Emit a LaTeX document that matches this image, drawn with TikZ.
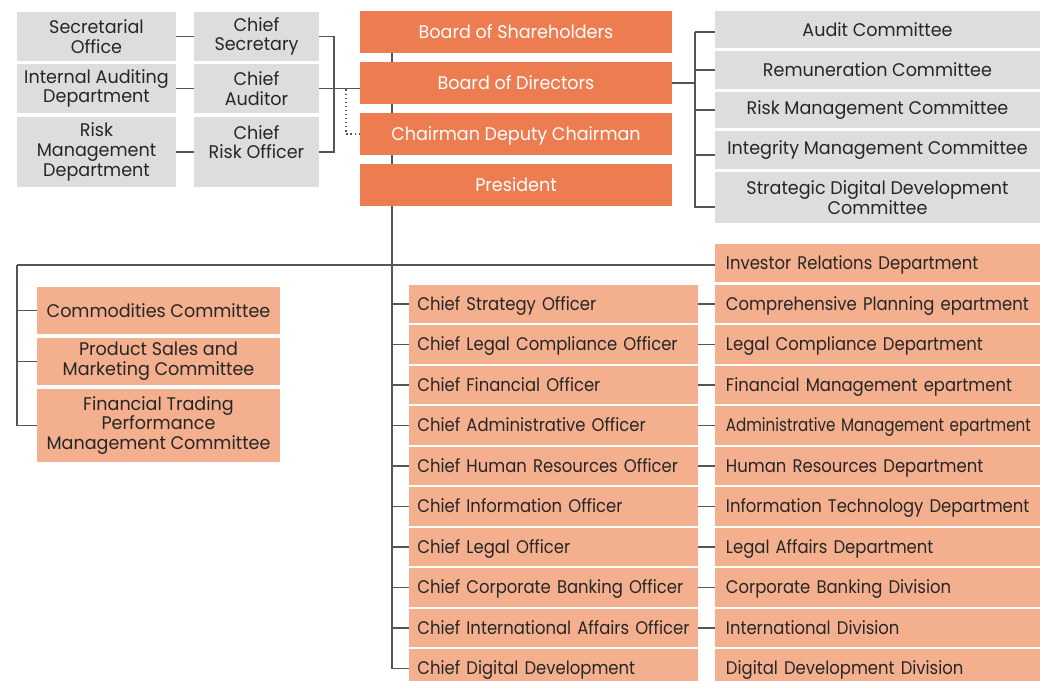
\documentclass[tikz,border=0pt]{standalone}
\usepackage{fontspec}
\setmainfont{Poppins}
\newfontfamily\boxfont{Poppins}[FakeStretch=0.96]
\newfontfamily\narrowfont{Poppins}[FakeStretch=0.9]
\usetikzlibrary{calc}

\definecolor{boardorange}{RGB}{237,125,81}
\definecolor{deptorange}{RGB}{244,176,142}
\definecolor{unitgrey}{RGB}{220,221,220}
\definecolor{linkgrey}{RGB}{85,85,85}

\tikzset{
    link/.style={draw=linkgrey, line width=0.9pt},
    unitbox/.style={fill=unitgrey, text=black!85, align=center, inner sep=0pt,
        font=\fontsize{13}{14}\boxfont},
    boardbox/.style={fill=boardorange, text=white, minimum width=7.8cm, minimum height=1.05cm,
        inner sep=0pt, text height=9.1pt, text depth=0pt, font=\fontsize{13}{14}\boxfont},
    cmtbox/.style={fill=deptorange, text=black!85, align=center, inner sep=0pt,
        minimum width=6.075cm, font=\fontsize{13}{14}\boxfont},
    offbox/.style={fill=deptorange, text=black!85, text width=6.8cm, align=left,
        inner xsep=0.2125cm, inner ysep=0pt, minimum height=0.95cm,
        text height=9.1pt, text depth=0pt, font=\fontsize{13}{14}\narrowfont},
    depbox/.style={fill=deptorange, text=black!85, text width=7.575cm, align=left,
        inner xsep=0.275cm, inner ysep=0pt, minimum height=0.95cm,
        text height=9.1pt, text depth=0pt, font=\fontsize{13}{14}\narrowfont},
}

\begin{document}
\begin{tikzpicture}[x=0.025cm, y=-0.025cm, line cap=butt]
    \useasboundingbox (0,0) rectangle (1040,681);

    % staff offices on the left
    \node[unitbox, minimum width=3.975cm, minimum height=1.225cm] (so) at (96.5,36.5) {Secretarial\\Office};
    \node[unitbox, minimum width=3.975cm, minimum height=1.225cm] (iad) at (96.5,88.5) {Internal Auditing\\Department};
    \node[unitbox, minimum width=3.975cm, minimum height=1.75cm] (rmd) at (96.5,152) {Risk\\Management\\Department};
    \node[unitbox, minimum width=3.125cm, minimum height=1.225cm] (cs) at (256.5,36.5) {Chief\\Secretary};
    \node[unitbox, minimum width=3.125cm, minimum height=1.225cm] (ca) at (256.5,88.5) {Chief\\Auditor};
    \node[unitbox, minimum width=3.125cm, minimum height=1.75cm] (cro) at (256.5,152) {Chief\\Risk Officer\\\mbox{}};

    % boards
    \node[boardbox] (bos) at (516,32) {Board of Shareholders};
    \node[boardbox] (bod) at (516,83) {Board of Directors};
    \node[boardbox] (cmn) at (516,134) {Chairman Deputy Chairman};
    \node[boardbox] (pres) at (516,185) {President};

    % board committees
    \node[unitbox, minimum width=8.125cm, minimum height=0.925cm] (ac) at (877.5,29.5) {Audit Committee};
    \node[unitbox, minimum width=8.125cm, minimum height=0.95cm] (rc) at (877.5,70) {Remuneration Committee};
    \node[unitbox, minimum width=8.125cm, minimum height=0.9cm] (rmc) at (877.5,110) {Risk Management Committee};
    \node[unitbox, minimum width=8.125cm, minimum height=0.95cm] (imc) at (877.5,150) {Integrity Management Committee};
    \node[unitbox, minimum width=8.125cm, minimum height=1.275cm] (sdc) at (877.5,197.5) {Strategic Digital Development\\Committee};

    % management committees
    \node[cmtbox, minimum height=1.175cm] (cm1) at (158.5,310.5) {Commodities Committee};
    \node[cmtbox, minimum height=1.175cm] (cm2) at (158.5,361.5) {Product Sales and\\Marketing Committee};
    \node[cmtbox, minimum height=1.825cm] (cm3) at (158.5,425.5) {Financial Trading\\Performance\\Management Committee};

    % officers and their departments
    \node[depbox] (ir) at (877.5,263) {Investor Relations Department};
    \foreach \off/\dep [count=\i] in {
        Chief Strategy Officer/Comprehensive Planning epartment,
        Chief Legal Compliance Officer/Legal Compliance Department,
        Chief Financial Officer/Financial Management epartment,
        Chief Administrative Officer/{\scalebox{0.92}[1]{Administrative Management epartment}},
        Chief Human Resources Officer/Human Resources Department,
        Chief Information Officer/Information Technology Department,
        Chief Legal Officer/Legal Affairs Department,
        Chief Corporate Banking Officer/Corporate Banking Division,
        Chief International Affairs Officer/International Division,
        Chief Digital Development/Digital Development Division}
    {
        \node[offbox] (off\i) at (553.5,{304+(\i-1)*40.5}) {\off};
        \node[depbox] (dep\i) at (877.5,{304+(\i-1)*40.5}) {\mbox{\dep}};
    }

    % connectors
    \coordinate (lbx) at (334,0);
    \coordinate (dj) at (346,89.5);
    \coordinate (spx) at (392,0);
    \coordinate (rbx) at (695,0);
    \coordinate (hj) at (17,265);

    \draw[link] (so) -- (cs);
    \draw[link] (iad) -- (ca);
    \draw[link] (rmd.east) -- (cro.west);
    \draw[link] (cs.east) -| (lbx |- cro.east) -- (cro.east);
    \draw[link] (ca.east) -- (ca.east -| bod.west);
    \draw[link, dotted] (dj) |- (cmn.west);

    \draw[link] (bos.south -| spx) -- (bod.north -| spx);
    \draw[link] (bod.south -| spx) -- (cmn.north -| spx);
    \draw[link] (cmn.south -| spx) -- (pres.north -| spx);
    \draw[link] (pres.south -| spx) |- (off10.west);

    \draw[link] (bod.east) -- (bod.east -| rbx);
    \draw[link] ($(ac.west -| rbx)+(0,2.5)$) -- ($(sdc.west -| rbx)+(0,9.5)$) -- ($(sdc.west)+(0,9.5)$);
    \draw[link] ($(ac.west -| rbx)+(0,2.5)$) -- ($(ac.west)+(0,2.5)$);
    \foreach \n in {rc,rmc} \draw[link] (\n.west -| rbx) -- (\n.west);
    \draw[link] ($(imc.west -| rbx)+(0,5)$) -- ($(imc.west)+(0,5)$);

    \draw[link] (hj) -- (hj -| ir.west);
    \draw[link] (hj) |- (cm3.west);
    \draw[link] (cm1.west -| hj) -- (cm1.west);
    \draw[link] (cm2.west -| hj) -- (cm2.west);

    \foreach \i in {1,...,9} {
        \draw[link] (off\i.west -| spx) -- (off\i.west);
        \draw[link] (off\i.east) -- (dep\i.west);
    }
\end{tikzpicture}
\end{document}
